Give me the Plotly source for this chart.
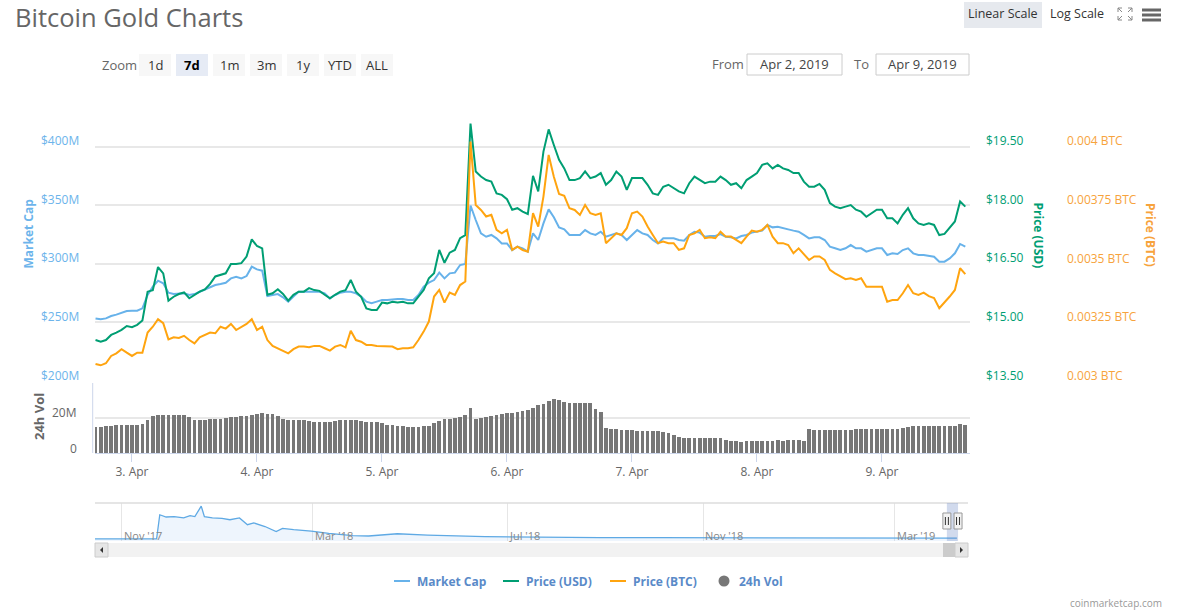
import pandas as pd
import plotly.graph_objects as go

# ---------------- data ----------------
times = pd.date_range("2019-04-02 17:00", periods=168, freq="h")

market_cap_musd = [
    253.5, 252.7, 253.5, 255.5, 256.7, 258.4, 259.8, 260.1, 260.1, 262.1,
    273.5, 280.6, 285.7, 283.5, 275.5, 274.3, 274.9, 274.9, 273.5, 274.3,
    276.3, 278.3, 280.6, 282.0, 282.9, 284.0, 287.7, 289.1, 287.7, 289.7,
    297.7, 295.4, 294.3, 272.6, 273.5, 274.3, 271.5, 267.8, 272.1, 276.3,
    276.3, 276.3, 276.3, 276.3, 274.9, 270.6, 273.5, 275.5, 276.3, 276.3,
    274.9, 272.1, 267.8, 266.4, 267.8, 269.2, 269.2, 269.8, 270.1, 270.1,
    269.2, 269.2, 273.5, 280.6, 284.0, 286.3, 292.6, 287.7, 292.0, 292.6,
    299.1, 300.0, 350.0, 337.6, 326.2, 323.3, 324.8, 321.9, 317.6, 317.6,
    311.9, 314.8, 313.4, 310.5, 326.2, 320.5, 334.7, 346.7, 339.9, 331.3,
    329.6, 324.8, 324.8, 324.8, 329.0, 326.2, 324.8, 327.6, 323.3, 324.8,
    326.2, 324.8, 320.5, 324.8, 329.0, 326.2, 324.8, 320.5, 317.6, 321.9,
    321.9, 321.9, 320.5, 319.9, 324.8, 327.6, 326.8, 323.3, 323.9, 323.9,
    325.6, 323.3, 322.8, 321.9, 323.9, 324.8, 326.8, 327.6, 328.5, 333.3,
    331.3, 331.9, 330.5, 329.6, 328.5, 327.6, 324.8, 321.9, 322.8, 322.8,
    320.5, 314.8, 313.4, 311.9, 313.4, 316.2, 313.4, 313.4, 310.5, 311.9,
    313.4, 313.4, 307.7, 309.1, 308.5, 311.9, 313.4, 309.1, 307.7, 307.7,
    306.8, 306.2, 302.0, 302.0, 304.8, 309.1, 317.1, 314.8,
]

price_usd = [
    14.55, 14.51, 14.55, 14.68, 14.74, 14.81, 14.91, 14.88, 14.94, 15.05,
    15.79, 15.83, 16.42, 16.26, 15.56, 15.66, 15.73, 15.77, 15.62, 15.71,
    15.79, 15.85, 15.99, 16.18, 16.22, 16.26, 16.50, 16.50, 16.52, 16.69,
    17.13, 16.96, 16.90, 15.71, 15.75, 15.85, 15.73, 15.56, 15.71, 15.79,
    15.79, 15.88, 15.83, 15.81, 15.71, 15.62, 15.71, 15.79, 15.83, 16.09,
    15.79, 15.66, 15.36, 15.32, 15.32, 15.51, 15.49, 15.53, 15.51, 15.53,
    15.49, 15.49, 15.66, 15.83, 16.13, 16.26, 16.86, 16.53, 16.79, 16.86,
    17.16, 17.24, 20.10, 18.87, 18.74, 18.65, 18.61, 18.31, 18.27, 18.16,
    17.89, 17.93, 17.84, 17.78, 18.76, 18.36, 19.38, 19.95, 19.55, 19.17,
    18.95, 18.65, 18.65, 18.70, 18.87, 18.70, 18.74, 18.83, 18.53, 18.65,
    18.87, 18.74, 18.40, 18.70, 18.70, 18.70, 18.53, 18.31, 18.27, 18.48,
    18.53, 18.44, 18.36, 18.31, 18.57, 18.74, 18.65, 18.57, 18.61, 18.61,
    18.74, 18.65, 18.53, 18.57, 18.44, 18.65, 18.74, 18.83, 19.04, 19.08,
    18.95, 19.04, 18.95, 18.91, 18.83, 18.83, 18.61, 18.48, 18.48, 18.55,
    18.40, 18.06, 17.97, 17.93, 17.97, 18.01, 17.89, 17.84, 17.71, 17.80,
    17.89, 17.89, 17.67, 17.67, 17.54, 17.76, 17.93, 17.67, 17.54, 17.50,
    17.54, 17.50, 17.24, 17.27, 17.42, 17.59, 18.10, 17.97,
]

price_btc = [
    0.003073, 0.003067, 0.003076, 0.003107, 0.003118, 0.003136, 0.003121, 0.003107, 0.003121, 0.003121,
    0.003207, 0.003232, 0.003264, 0.003247, 0.003178, 0.003187, 0.003184, 0.003193, 0.003175, 0.003161,
    0.003187, 0.003197, 0.003207, 0.003204, 0.003232, 0.003224, 0.003244, 0.003218, 0.003232, 0.003244,
    0.003264, 0.003218, 0.003232, 0.003175, 0.003150, 0.003140, 0.003130, 0.003118, 0.003136, 0.003147,
    0.003147, 0.003144, 0.003150, 0.003150, 0.003140, 0.003130, 0.003147, 0.003154, 0.003144, 0.003215,
    0.003175, 0.003168, 0.003154, 0.003154, 0.003150, 0.003150, 0.003147, 0.003147, 0.003136, 0.003140,
    0.003140, 0.003144, 0.003175, 0.003211, 0.003254, 0.003361, 0.003389, 0.003335, 0.003378, 0.003368,
    0.003410, 0.003425, 0.004023, 0.003752, 0.003731, 0.003703, 0.003710, 0.003646, 0.003631, 0.003646,
    0.003560, 0.003574, 0.003560, 0.003553, 0.003717, 0.003660, 0.003788, 0.003966, 0.003873, 0.003799,
    0.003791, 0.003738, 0.003731, 0.003710, 0.003752, 0.003717, 0.003710, 0.003717, 0.003589, 0.003610,
    0.003631, 0.003624, 0.003653, 0.003717, 0.003724, 0.003703, 0.003660, 0.003624, 0.003589, 0.003596,
    0.003589, 0.003589, 0.003560, 0.003567, 0.003624, 0.003631, 0.003646, 0.003610, 0.003614, 0.003610,
    0.003638, 0.003617, 0.003617, 0.003603, 0.003589, 0.003617, 0.003643, 0.003638, 0.003646, 0.003667,
    0.003617, 0.003589, 0.003589, 0.003581, 0.003546, 0.003567, 0.003543, 0.003517, 0.003532, 0.003532,
    0.003517, 0.003475, 0.003460, 0.003446, 0.003435, 0.003439, 0.003432, 0.003439, 0.003403, 0.003403,
    0.003403, 0.003403, 0.003339, 0.003346, 0.003346, 0.003375, 0.003410, 0.003375, 0.003368, 0.003378,
    0.003363, 0.003354, 0.003311, 0.003335, 0.003361, 0.003389, 0.003482, 0.003457,
]

volume_musd = [
    15.05, 15.05, 15.6, 15.6, 15.8, 15.8, 15.8, 15.8, 15.8, 16.6,
    18.9, 20.95, 21.9, 21.9, 21.7, 21.5, 21.5, 21.5, 20.8, 19.05,
    18.9, 18.9, 19.2, 19.2, 19.4, 19.8, 20.4, 20.8, 20.95, 21.1,
    21.9, 22.3, 22.7, 22.5, 22.1, 21.1, 19.6, 18.9, 18.9, 18.9,
    18.7, 18.5, 17.9, 17.9, 17.9, 17.9, 18.3, 18.9, 18.9, 18.9,
    18.7, 18.3, 17.9, 17.7, 17.5, 16.95, 16.2, 15.8, 15.6, 15.4,
    15.05, 15.05, 15.05, 15.2, 15.4, 16.95, 18.5, 19.2, 19.6, 20.2,
    20.6, 21.7, 25.5, 19.2, 20.0, 20.6, 21.3, 21.9, 22.3, 22.7,
    23.0, 23.6, 24.0, 24.6, 25.9, 27.6, 28.2, 29.9, 30.7, 30.3,
    29.1, 28.8, 28.8, 28.8, 28.8, 28.4, 24.95, 23.2, 14.1, 13.7,
    13.5, 13.3, 13.1, 12.95, 12.8, 12.8, 12.8, 12.6, 12.4, 11.8,
    11.4, 10.1, 8.95, 8.8, 8.8, 8.8, 8.8, 8.8, 8.8, 8.6,
    8.4, 7.6, 7.05, 6.7, 6.5, 6.7, 6.9, 6.9, 6.9, 6.9,
    7.05, 7.4, 7.05, 7.4, 7.4, 7.4, 6.9, 13.7, 13.3, 13.1,
    13.1, 13.1, 13.1, 13.1, 13.1, 13.1, 13.5, 13.5, 13.5, 13.5,
    13.5, 13.5, 13.5, 13.5, 13.5, 14.1, 14.7, 15.2, 15.6, 15.6,
    15.6, 15.6, 15.6, 15.6, 15.6, 15.6, 16.4, 16.0,
]

# navigator (full history of market cap, $B)
nav_dates = [
    "2017-10-15", "2017-11-23", "2017-11-25", "2017-11-29", "2017-12-04", "2017-12-10",
    "2017-12-14", "2017-12-17", "2017-12-21", "2017-12-23", "2017-12-28", "2018-01-03",
    "2018-01-08", "2018-01-14", "2018-01-19", "2018-01-23", "2018-01-30", "2018-02-06",
    "2018-02-10", "2018-02-17", "2018-02-28", "2018-03-11", "2018-03-26", "2018-04-05",
    "2018-04-23", "2018-05-12", "2018-06-17", "2018-07-22", "2018-08-28", "2018-10-03",
    "2018-11-08", "2018-12-14", "2019-02-25", "2019-04-09",
]
nav_mc_busd = [
    0.45, 0.45, 5.8, 5.3, 5.4, 5.1,
    5.6, 5.4, 7.7, 5.4, 5.1, 5.0,
    4.7, 5.1, 3.6, 4.0, 3.2, 2.1,
    2.8, 2.5, 2.2, 1.7, 1.2, 1.1,
    1.6, 1.3, 0.96, 0.83, 0.74, 0.74,
    0.74, 0.6, 0.6, 0.65,
]
nav_tick_dates = ["2017-11-01", "2018-03-01", "2018-07-01", "2018-11-01", "2019-03-01"]
nav_tick_text = ["Nov '17", "Mar '18", "Jul '18", "Nov '18", "Mar '19"]

day_ticks = pd.date_range("2019-04-03", "2019-04-09", freq="D")
day_tick_text = [f"{d.day}. Apr" for d in day_ticks]

mc_ticks = [200, 250, 300, 350, 400]
mc_tick_text = ["$200M", "$250M", "$300M", "$350M", "$400M"]
usd_ticks = [13.5, 15.0, 16.5, 18.0, 19.5]
usd_tick_text = ["$13.50", "$15.00", "$16.50", "$18.00", "$19.50"]
btc_ticks = [0.003, 0.00325, 0.0035, 0.00375, 0.004]
btc_tick_text = ["0.003 BTC", "0.00325 BTC", "0.0035 BTC", "0.00375 BTC", "0.004 BTC"]
vol_ticks = [0, 20e6]
vol_tick_text = ["0", "20M"]

range_buttons = ["1d", "7d", "1m", "3m", "1y", "YTD", "ALL"]
selected_button = "7d"

# ---------------- style ----------------
W, H = 1193, 615
FONT = "Open Sans"
C_MC = "#67b2ea"
C_MC_TXT = "#6cb4eb"
C_USD = "#009e73"
C_BTC = "#ffa40f"
C_BTC_TXT = "#f7a33c"
C_VOL = "#777777"
C_GRID = "#e8e8e8"
C_AXIS = "#ccd6eb"
C_LEG = "#5a8ac8"


def X(p):
    return p / W


def Y(p):
    return 1 - p / H


MAIN_X = [X(95), X(970)]
MAIN_Y = [Y(381), Y(88)]
VOL_Y = [Y(453), Y(381)]
NAV_X = [X(95), X(968)]
NAV_Y = [Y(541), Y(503)]

fig = go.Figure()
fig.add_trace(go.Scatter(x=times, y=market_cap_musd, xaxis="x", yaxis="y", mode="lines",
                         line=dict(color=C_MC, width=2), name="Market Cap"))
fig.add_trace(go.Scatter(x=times, y=price_usd, xaxis="x", yaxis="y3", mode="lines",
                         line=dict(color=C_USD, width=2), name="Price (USD)"))
fig.add_trace(go.Scatter(x=times, y=price_btc, xaxis="x", yaxis="y4", mode="lines",
                         line=dict(color=C_BTC, width=2), name="Price (BTC)"))
fig.add_trace(go.Bar(x=times, y=[v * 1e6 for v in volume_musd], xaxis="x2", yaxis="y2",
                     marker=dict(color=C_VOL, line=dict(width=0)), width=3600 * 1000 * 0.72,
                     name="24h Vol"))
fig.add_trace(go.Scatter(x=nav_dates, y=nav_mc_busd, xaxis="x3", yaxis="y5", mode="lines",
                         line=dict(color="#5ea9e4", width=1.3), fill="tozeroy",
                         fillcolor="rgba(124,181,236,0.13)", name="nav"))

xrange_main = ["2019-04-02 16:54", "2019-04-09 16:54"]

fig.update_layout(
    width=W, height=H, autosize=False,
    margin=dict(l=0, r=0, t=0, b=0),
    paper_bgcolor="white", plot_bgcolor="rgba(0,0,0,0)",
    showlegend=False, bargap=0,
    font=dict(family=FONT, size=12, color="#666666"),
    xaxis=dict(domain=MAIN_X, range=xrange_main, anchor="y", showgrid=False,
               showticklabels=False, zeroline=False, showline=False, ticks=""),
    xaxis2=dict(domain=MAIN_X, range=xrange_main, anchor="y2", matches="x", showgrid=False,
                tickmode="array", tickvals=list(day_ticks), ticktext=day_tick_text,
                ticks="outside", ticklen=8, tickcolor=C_AXIS, tickwidth=1,
                showline=True, linecolor=C_AXIS, linewidth=1, zeroline=False,
                tickfont=dict(family=FONT, size=12, color="#666666")),
    yaxis=dict(domain=MAIN_Y, range=[200, 450.4], anchor="x", tickmode="array",
               tickvals=mc_ticks + [450], showgrid=True, gridcolor=C_GRID, gridwidth=2,
               showticklabels=False, zeroline=False, showline=False),
    yaxis3=dict(range=[13.5, 21.01], overlaying="y", anchor="x", visible=False),
    yaxis4=dict(range=[0.003, 0.0042521], overlaying="y", anchor="x", visible=False),
    yaxis2=dict(domain=VOL_Y, range=[0, 41.1e6], anchor="x2", tickmode="array",
                tickvals=[20e6], showgrid=True, gridcolor=C_GRID, gridwidth=2,
                showticklabels=False, zeroline=False, showline=False),
    xaxis3=dict(domain=NAV_X, range=["2017-10-15 09:00", "2019-04-15 23:00"], anchor="y5",
                tickmode="array", tickvals=nav_tick_dates, showgrid=True, gridcolor="#e6e6e6",
                gridwidth=1, showticklabels=False, zeroline=False, showline=False),
    yaxis5=dict(domain=NAV_Y, range=[0, 8.4], anchor="x3", visible=False),
)

ann = []
shapes = []


def text(t, x, y, size=13, color="#666666", xanchor="left", bold=False, angle=0,
         xref="paper", yref="paper", yshift=0, xshift=0):
    ann.append(dict(text=(f"<b>{t}</b>" if bold else t), x=x, y=y, xref=xref, yref=yref,
                    xanchor=xanchor, yanchor="middle", showarrow=False, textangle=angle,
                    yshift=yshift, xshift=xshift, borderpad=0,
                    font=dict(family=FONT, size=size, color=color)))


def rect(x0, y0, x1, y1, fill, line=None, lw=1, xref="paper", yref="paper", layer="above"):
    shapes.append(dict(type="rect", xref=xref, yref=yref, x0=x0, y0=y0, x1=x1, y1=y1,
                       fillcolor=fill, line=dict(color=line or fill, width=lw if line else 0),
                       layer=layer))


def line(x0, y0, x1, y1, color, width=1, xref="paper", yref="paper"):
    shapes.append(dict(type="line", xref=xref, yref=yref, x0=x0, y0=y0, x1=x1, y1=y1,
                       line=dict(color=color, width=width)))


# title
text("Bitcoin Gold Charts", X(14), Y(16.5), size=25.5, color="#666666")

# scale buttons & icons
rect(X(964), Y(2), X(1042), Y(28), "#e6e9ee")
text("Linear Scale", X(1003), Y(14), size=12.5, color="#333333", xanchor="center")
text("Log Scale", X(1077), Y(14), size=12.5, color="#333333", xanchor="center")
ic = "#888888"
for (cx, cy, dx, dy) in [(1118, 8, 1, 1), (1132, 8, -1, 1), (1118, 20, 1, -1), (1132, 20, -1, -1)]:
    line(X(cx), Y(cy), X(cx + 4 * dx), Y(cy), ic, 1)
    line(X(cx), Y(cy), X(cx), Y(cy + 4 * dy), ic, 1)
    line(X(cx), Y(cy), X(cx + 4 * dx), Y(cy + 4 * dy), ic, 1)
for yb in (8.5, 13.5, 18.5):
    rect(X(1142), Y(yb + 3), X(1161), Y(yb), "#666666")

# range selector
text("Zoom", X(101), Y(65), size=13, color="#666666")
bx = 139
for b in range_buttons:
    sel = b == selected_button
    rect(X(bx), Y(76), X(bx + 32), Y(54), "#e6ebf5" if sel else "#f7f7f7")
    text(b, X(bx + 16), Y(65), size=13, color="#000000" if sel else "#333333",
         xanchor="center", bold=sel)
    bx += 37

text("From", X(711), Y(64), size=13, color="#666666")
rect(X(747), Y(75), X(842), Y(54), "white", "#cccccc", 1)
text("Apr 2, 2019", X(794.5), Y(64.5), size=13, color="#444444", xanchor="center")
text("To", X(853), Y(64), size=13, color="#666666")
rect(X(876), Y(75), X(969), Y(54), "white", "#cccccc", 1)
text("Apr 9, 2019", X(922.5), Y(64.5), size=13, color="#444444", xanchor="center")

# axis labels
for v, t in zip(mc_ticks, mc_tick_text):
    text(t, X(80), v, size=12, color=C_MC_TXT, xanchor="right", yref="y", yshift=6)
for v, t in zip(usd_ticks, usd_tick_text):
    text(t, X(985), v, size=12, color=C_USD, xanchor="left", yref="y3", yshift=6)
for v, t in zip(btc_ticks, btc_tick_text):
    text(t, X(1066), v, size=12, color=C_BTC_TXT, xanchor="left", yref="y4", yshift=6)
for v, t in zip(vol_ticks, vol_tick_text):
    text(t, X(78), v, size=12, color="#666666", xanchor="right", yref="y2", yshift=5)

text("Market Cap", X(27.5), Y(234), size=12, color=C_MC_TXT, xanchor="center", bold=True, angle=-90)
text("Price (USD)", X(1037.5), Y(235), size=12, color=C_USD, xanchor="center", bold=True, angle=90)
text("Price (BTC)", X(1150), Y(235), size=12, color=C_BTC_TXT, xanchor="center", bold=True, angle=90)
text("24h Vol", X(39), Y(417), size=13, color="#666666", xanchor="center", bold=True, angle=-90)

# volume y axis line
line(X(92.7), Y(383), X(92.7), Y(453), C_AXIS, 1)

# navigator decorations
line(X(95), Y(503), X(968), Y(503), "#dddddd", 1.5)
for d, t in zip(nav_tick_dates, nav_tick_text):
    text(t, d, Y(535), size=11, color="#888888", xanchor="left", xref="x3", xshift=1)
sel0, sel1 = "2019-04-02 17:00", "2019-04-09 17:00"
rect(sel0, Y(541), sel1, Y(503), "rgba(102,133,194,0.3)", xref="x3")
for d in (sel0, sel1):
    shapes.append(dict(type="rect", xref="x3", yref="paper", xsizemode="pixel", xanchor=d,
                       x0=-4, x1=4, y0=Y(529), y1=Y(513), fillcolor="#f2f2f2",
                       line=dict(color="#999999", width=1)))
    for off in (-1.5, 1.5):
        shapes.append(dict(type="line", xref="x3", yref="paper", xsizemode="pixel", xanchor=d,
                           x0=off, x1=off, y0=Y(525), y1=Y(517),
                           line=dict(color="#333333", width=1)))

# scrollbar
rect(X(95), Y(557), X(968), Y(543), "#f2f2f2")
rect(X(943), Y(557), X(955), Y(543), "#cccccc")
rect(X(95), Y(557), X(108), Y(543), "#e6e6e6", "#cccccc", 1)
rect(X(955), Y(557), X(968), Y(543), "#e6e6e6", "#cccccc", 1)
shapes.append(dict(type="path", xref="paper", yref="paper",
                   path=f"M {X(103)} {Y(547)} L {X(103)} {Y(553)} L {X(100)} {Y(550)} Z",
                   fillcolor="#333333", line=dict(width=0)))
shapes.append(dict(type="path", xref="paper", yref="paper",
                   path=f"M {X(960)} {Y(547)} L {X(960)} {Y(553)} L {X(963)} {Y(550)} Z",
                   fillcolor="#333333", line=dict(width=0)))

# legend
legend_items = [("Market Cap", C_MC, 394, 416), ("Price (USD)", C_USD, 503, 525),
                ("Price (BTC)", C_BTC, 610, 632)]
for name, col, lx, tx in legend_items:
    line(X(lx), Y(581), X(lx + 16), Y(581), col, 2)
    text(name, X(tx), Y(581), size=12, color=C_LEG, bold=True)
shapes.append(dict(type="circle", xref="paper", yref="paper", x0=X(718.5), x1=X(729.5),
                   y0=Y(586.5), y1=Y(575.5), fillcolor=C_VOL, line=dict(width=0)))
text("24h Vol", X(738), Y(581), size=12, color=C_LEG, bold=True)

text("coinmarketcap.com", X(1163), Y(603), size=10, color="#999999", xanchor="right")

fig.update_layout(annotations=ann, shapes=shapes)

fig.write_html("out.html", config={"displayModeBar": False},
               post_script="document.body.style.margin='0';document.body.style.overflow='hidden';")
